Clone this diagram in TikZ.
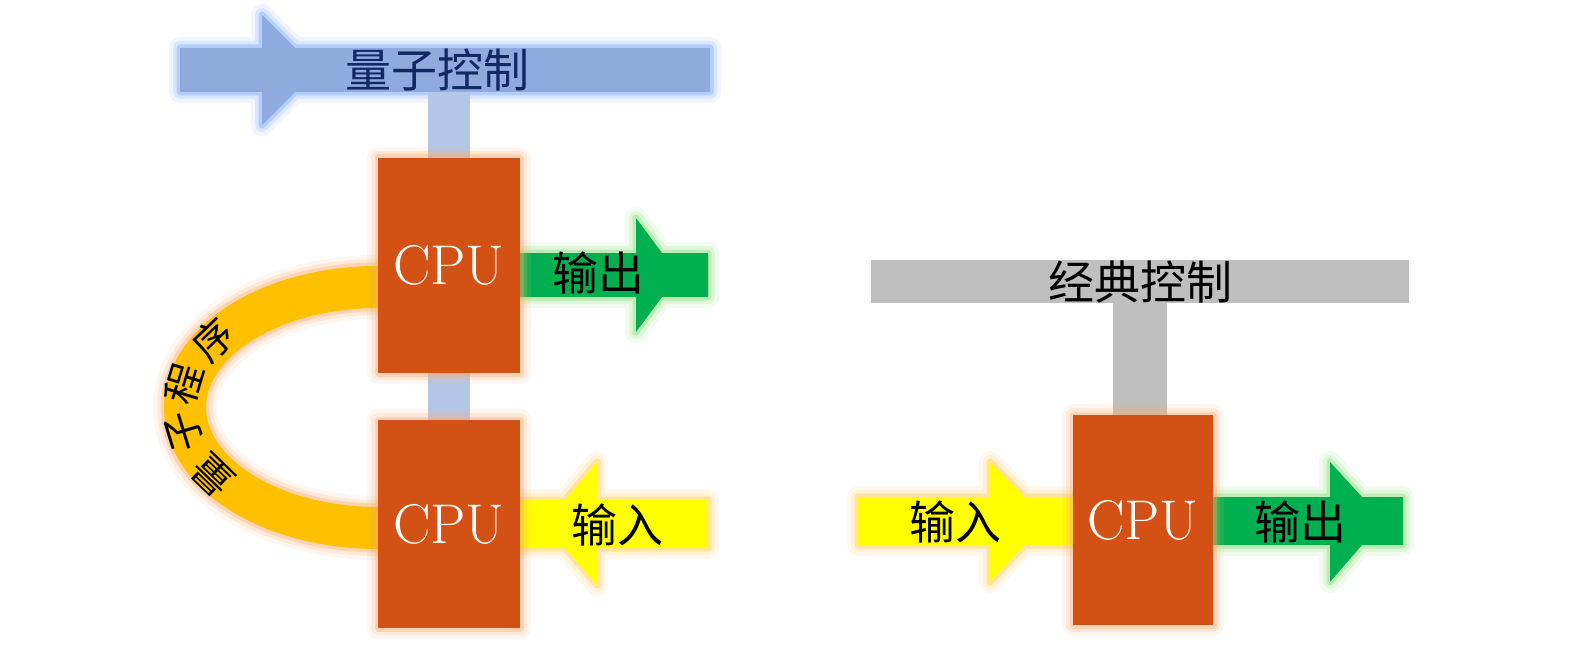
\documentclass[tikz,border=0pt]{standalone}
\usepackage{fontspec}
\newfontfamily\cjk{Noto Sans CJK SC}
\definecolor{cpuc}{RGB}{211,81,21}
\definecolor{cpuglow}{RGB}{250,170,110}
\definecolor{bandblue}{RGB}{143,170,220}
\definecolor{blueglow}{RGB}{110,160,250}
\definecolor{connblue}{RGB}{180,199,231}
\definecolor{navy}{RGB}{16,40,100}
\definecolor{greenc}{RGB}{0,176,80}
\definecolor{greenglow}{RGB}{130,220,110}
\definecolor{yellowc}{RGB}{255,255,0}
\definecolor{yellowglow}{RGB}{255,200,80}
\definecolor{goldc}{RGB}{255,192,0}
\definecolor{grayc}{RGB}{191,191,191}
\tikzset{
  glow/.style={
    preaction={draw=#1,line width=22pt,opacity=.1,line join=round},
    preaction={draw=#1,line width=14pt,opacity=.18,line join=round},
    preaction={draw=#1,line width=7pt,opacity=.35,line join=round}},
  cpubox/.style={glow=cpuglow,fill=cpuc,inner sep=0pt,minimum width=142pt,
    text=white,font=\fontsize{56}{60}\selectfont},
  conn/.style={draw=#1,line width=42pt},
  cjktext/.style={font=\cjk\fontsize{46}{50}\selectfont,inner sep=0pt},
  arctext/.style={font=\cjk\fontsize{40}{44}\selectfont,inner sep=0pt,text=black}
}
\begin{document}
\begin{tikzpicture}[x=1pt,y=-1pt]
\useasboundingbox (0,0) rectangle (1575,650);
% ---------- left: quantum control band
\fill[glow=blueglow,fill=bandblue] (180,48) -- (262,48) -- (262,15) -- (295,48) -- (710,48) -- (710,92)
  -- (295,92) -- (262,125) -- (262,92) -- (180,92) -- cycle;
\node[cjktext,text=navy] (qc) at (437,70) {量子控制};
\coordinate (bbot) at (449,92);
% cpu nodes (positions only)
\path (449,265.5) node[inner sep=0pt,minimum width=142pt,minimum height=215pt] (cpu1) {};
\path (449,524) node[inner sep=0pt,minimum width=142pt,minimum height=208pt] (cpu2) {};
% connectors
\draw[conn=connblue] (bbot) -- (cpu1.north);
\draw[conn=connblue] (cpu1.south) -- (cpu2.north);
% quantum program arc
\draw[goldc,line width=42pt,
  preaction={draw=cpuglow,line width=64pt,opacity=.1},
  preaction={draw=cpuglow,line width=56pt,opacity=.18},
  preaction={draw=cpuglow,line width=49pt,opacity=.35}]
  plot[domain=90:270,samples=80] ({378+193*cos(\x)},{407.5-120.5*sin(\x)});
\node[arctext,rotate=136] (q1) at (213,475) {量};
\node[arctext,rotate=107] (q2) at (184,431) {子};
\node[arctext,rotate=73] (q3) at (184,384) {程};
\node[arctext,rotate=44] (q4) at (213,340) {序};
% output arrow (green) top
\fill[glow=greenglow,fill=greenc] (520,253) -- (636,253) -- (636,218) -- (662,253) -- (708,253) -- (708,297)
  -- (662,297) -- (636,332) -- (636,297) -- (520,297) -- cycle;
\node[cjktext] (out1) at (598,273) {输出};
% input arrow (yellow) pointing left
\fill[glow=yellowglow,fill=yellowc] (708,500) -- (597,500) -- (597,462) -- (565,500) -- (520,500) -- (520,548)
  -- (565,548) -- (597,585) -- (597,548) -- (708,548) -- cycle;
\node[cjktext] (in1) at (617,525) {输入};
% CPUs
\node[cpubox,minimum height=215pt] (c1) at (449,265.5) {CPU};
\node[cpubox,minimum height=208pt] (c2) at (449,524) {CPU};
% ---------- right: classical control
\node[cjktext,fill=grayc,minimum width=538pt,minimum height=43pt] (cc) at (1140,281.5) {经典控制};
\path (1143,520) node[inner sep=0pt,minimum width=140pt,minimum height=210pt] (cpu3) {};
\draw[conn=grayc,line width=54pt] (cc.south) -- (cc.south |- cpu3.north);
\fill[glow=yellowglow,fill=yellowc] (858,497) -- (990,497) -- (990,462) -- (1025,497) -- (1073,497) -- (1073,545)
  -- (1025,545) -- (990,582) -- (990,545) -- (858,545) -- cycle;
\node[cjktext] (in2) at (955,522) {输入};
\fill[glow=greenglow,fill=greenc] (1213,497) -- (1330,497) -- (1330,462) -- (1362,497) -- (1403,497) -- (1403,545)
  -- (1362,545) -- (1330,582) -- (1330,545) -- (1213,545) -- cycle;
\node[cjktext] (out2) at (1300,522) {输出};
\node[cpubox,minimum width=140pt,minimum height=210pt] (c3) at (1143,520) {CPU};
\end{tikzpicture}
\end{document}
